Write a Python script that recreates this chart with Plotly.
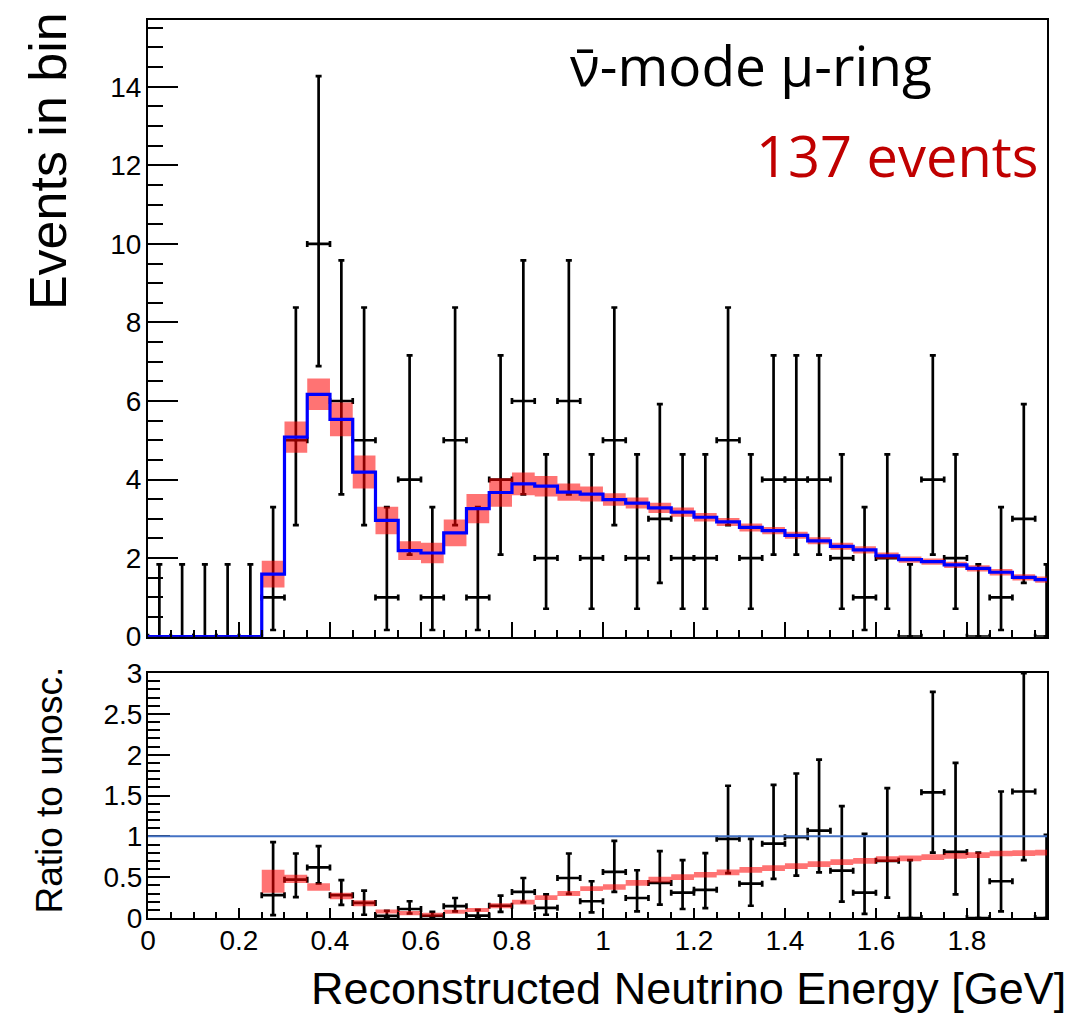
import plotly.graph_objects as go

# ---------------- data ----------------
energy_edges = [0.00, 0.05, 0.10, 0.15, 0.20, 0.25, 0.30, 0.35, 0.40, 0.45,
                0.50, 0.55, 0.60, 0.65, 0.70, 0.75, 0.80, 0.85, 0.90, 0.95,
                1.00, 1.05, 1.10, 1.15, 1.20, 1.25, 1.30, 1.35, 1.40, 1.45,
                1.50, 1.55, 1.60, 1.65, 1.70, 1.75, 1.80, 1.85, 1.90, 1.95, 2.00]

data_counts = [0, 0, 0, 0, 0, 1, 5, 10, 6, 5, 1, 4, 1, 5, 1, 4, 6, 2, 6, 2,
               5, 2, 3, 2, 2, 5, 2, 4, 4, 4, 2, 1, 2, 0, 4, 2, 0, 1, 3, 0]
data_err_up = [1.84, 1.84, 1.84, 1.84, 1.84, 2.30, 3.38, 4.27, 3.58, 3.38,
               2.30, 3.16, 2.30, 3.38, 2.30, 3.16, 3.58, 2.64, 3.58, 2.64,
               3.38, 2.64, 2.92, 2.64, 2.64, 3.38, 2.64, 3.16, 3.16, 3.16,
               2.64, 2.30, 2.64, 1.84, 3.16, 2.64, 1.84, 2.30, 2.92, 1.84]
data_err_low = [0, 0, 0, 0, 0, 0.83, 2.16, 3.11, 2.38, 2.16,
                0.83, 1.91, 0.83, 2.16, 0.83, 1.91, 2.38, 1.29, 2.38, 1.29,
                2.16, 1.29, 1.63, 1.29, 1.29, 2.16, 1.29, 1.91, 1.91, 1.91,
                1.29, 0.83, 1.29, 0, 1.91, 1.29, 0, 0.83, 1.63, 0]

mc_osc = [0, 0, 0, 0, 0, 1.59, 5.08, 6.17, 5.53, 4.19,
          2.96, 2.19, 2.13, 2.64, 3.26, 3.67, 3.89, 3.83, 3.68, 3.63,
          3.49, 3.40, 3.28, 3.17, 3.04, 2.92, 2.78, 2.70, 2.58, 2.44,
          2.30, 2.21, 2.06, 1.96, 1.91, 1.83, 1.74, 1.64, 1.51, 1.45]
mc_err = [0, 0, 0, 0, 0, 0.34, 0.40, 0.40, 0.43, 0.42,
          0.35, 0.24, 0.26, 0.34, 0.37, 0.36, 0.29, 0.26, 0.22, 0.19,
          0.16, 0.14, 0.13, 0.12, 0.11, 0.10, 0.10, 0.09, 0.09, 0.09,
          0.09, 0.09, 0.08, 0.08, 0.08, 0.08, 0.08, 0.08, 0.08, 0.08]

ratio_data = [None, None, None, None, None, 0.28, 0.47, 0.62, 0.28, 0.185,
              0.027, 0.11, 0.025, 0.145, 0.03, 0.15, 0.32, 0.125, 0.49, 0.205,
              0.565, 0.245, 0.43, 0.31, 0.345, 0.97, 0.42, 0.91, 0.99, 1.07,
              0.58, 0.31, 0.70, 0, 1.54, 0.81, 0, 0.45, 1.55, 0]
ratio_err_up = [0, 0, 0, 0, 0, 0.65, 0.32, 0.26, 0.185, 0.15,
                0.062, 0.095, 0.05, 0.10, 0.07, 0.125, 0.17, 0.165, 0.30, 0.245,
                0.38, 0.34, 0.39, 0.40, 0.45, 0.65, 0.55, 0.72, 0.78, 0.87,
                0.79, 0.72, 0.89, 0.71, 1.23, 1.09, 0.80, 1.10, 1.45, 1.02]
ratio_err_low = [0, 0, 0, 0, 0, 0.245, 0.215, 0.195, 0.12, 0.145,
                 0.022, 0.055, 0.02, 0.065, 0.025, 0.075, 0.125, 0.085, 0.195, 0.135,
                 0.245, 0.165, 0.265, 0.20, 0.225, 0.42, 0.27, 0.43, 0.47, 0.51,
                 0.38, 0.26, 0.45, 0, 0.74, 0.52, 0, 0.37, 0.84, 0]

ratio_mc = [0, 0, 0, 0, 0, 0.45, 0.48, 0.38, 0.27, 0.18,
            0.08, 0.06, 0.04, 0.077, 0.098, 0.15, 0.195, 0.25, 0.30, 0.36,
            0.38, 0.43, 0.47, 0.50, 0.53, 0.56, 0.59, 0.61, 0.635, 0.66,
            0.685, 0.70, 0.72, 0.73, 0.745, 0.76, 0.77, 0.79, 0.795, 0.80]
ratio_mc_err = [0, 0, 0, 0, 0, 0.14, 0.05, 0.045, 0.04, 0.036,
                0.025, 0.025, 0.025, 0.025, 0.025, 0.03, 0.03, 0.03, 0.03, 0.03,
                0.035, 0.035, 0.035, 0.035, 0.035, 0.035, 0.035, 0.035, 0.035, 0.035,
                0.035, 0.035, 0.035, 0.035, 0.035, 0.035, 0.035, 0.035, 0.035, 0.035]

x_tick_vals = [0, 0.2, 0.4, 0.6, 0.8, 1.0, 1.2, 1.4, 1.6, 1.8]
x_tick_text = ["0", "0.2", "0.4", "0.6", "0.8", "1", "1.2", "1.4", "1.6", "1.8"]
top_y_ticks = [0, 2, 4, 6, 8, 10, 12, 14]
bot_y_ticks = [0, 0.5, 1, 1.5, 2, 2.5, 3]
bot_y_text = ["0", "0.5", "1", "1.5", "2", "2.5", "3"]

# ---------------- derived ----------------
centers = [(a + b) / 2 for a, b in zip(energy_edges[:-1], energy_edges[1:])]
half_w = [(b - a) / 2 for a, b in zip(energy_edges[:-1], energy_edges[1:])]


def band_polys(vals, errs):
    xs, ys = [], []
    for i, (v, e) in enumerate(zip(vals, errs)):
        if e <= 0:
            continue
        x0, x1 = energy_edges[i], energy_edges[i + 1]
        xs += [x0, x1, x1, x0, x0, None]
        ys += [v - e, v - e, v + e, v + e, v - e, None]
    return xs, ys


BAND = "rgba(255,0,0,0.55)"
SANS = "Liberation Sans, Arial, Helvetica, sans-serif"
TICKFONT = dict(family=SANS, size=28, color="black")

fig = go.Figure()

# ---- top panel ----
fig.add_trace(go.Scatter(
    x=centers, y=data_counts, mode="markers", xaxis="x", yaxis="y",
    marker=dict(size=3, color="black"),
    error_y=dict(type="data", symmetric=False, array=data_err_up, arrayminus=data_err_low,
                 color="black", thickness=2.7, width=3),
    error_x=dict(type="data", array=half_w, color="black", thickness=2.7, width=3),
    showlegend=False, hoverinfo="skip"))

bx, by = band_polys(mc_osc, mc_err)
fig.add_trace(go.Scatter(x=bx, y=by, mode="lines", fill="toself", fillcolor=BAND,
                         line=dict(width=0, color=BAND), xaxis="x", yaxis="y",
                         showlegend=False, hoverinfo="skip"))

fig.add_trace(go.Scatter(x=energy_edges, y=mc_osc + [mc_osc[-1]], mode="lines",
                         line=dict(color="#0000ff", width=3.2, shape="hv"),
                         xaxis="x", yaxis="y", showlegend=False, hoverinfo="skip"))

# ---- bottom panel ----
idx = [i for i, r in enumerate(ratio_data) if r is not None]
fig.add_trace(go.Scatter(
    x=[centers[i] for i in idx], y=[ratio_data[i] for i in idx], mode="markers",
    xaxis="x2", yaxis="y2", marker=dict(size=3, color="black"),
    error_y=dict(type="data", symmetric=False,
                 array=[ratio_err_up[i] for i in idx],
                 arrayminus=[ratio_err_low[i] for i in idx],
                 color="black", thickness=2.7, width=3),
    error_x=dict(type="data", array=[half_w[i] for i in idx], color="black",
                 thickness=2.7, width=3),
    showlegend=False, hoverinfo="skip"))

rx, ry = band_polys(ratio_mc, ratio_mc_err)
fig.add_trace(go.Scatter(x=rx, y=ry, mode="lines", fill="toself", fillcolor=BAND,
                         line=dict(width=0, color=BAND), xaxis="x2", yaxis="y2",
                         showlegend=False, hoverinfo="skip"))

fig.add_shape(type="line", xref="x2 domain", x0=0, x1=1, yref="y2", y0=1, y1=1,
              line=dict(color="#4472c4", width=2))

X_RANGE = [0, 1.976]
common_axis = dict(showline=True, linewidth=2, linecolor="black", mirror=True,
                   showgrid=False, zeroline=False, ticks="inside", tickwidth=2,
                   tickcolor="black", tickfont=TICKFONT, automargin=False)

# the page body adds an 8px offset, so the figure is 8px smaller and margins
# are reduced by 8px to keep the plot frame where the reference has it
fig.update_layout(
    width=1075, height=1007,
    margin=dict(l=140, r=36, t=12, b=97, autoexpand=False),
    paper_bgcolor="white", plot_bgcolor="white",
    xaxis=dict(domain=[0, 1], anchor="y", range=X_RANGE, tickvals=x_tick_vals,
               showticklabels=False, ticklen=15,
               minor=dict(dtick=0.05, tick0=0, ticks="inside", ticklen=7,
                          tickwidth=2, tickcolor="black"),
               **common_axis),
    yaxis=dict(domain=[0.3133, 1], anchor="x", range=[0, 15.7], tickvals=top_y_ticks,
               ticklen=30, ticklabelstandoff=-1,
               minor=dict(dtick=0.5, tick0=0, ticks="inside", ticklen=15,
                          tickwidth=2, tickcolor="black"),
               **common_axis),
    xaxis2=dict(domain=[0, 1], anchor="y2", range=X_RANGE, tickvals=x_tick_vals,
                ticktext=x_tick_text, ticklen=10, ticklabelstandoff=-4,
                minor=dict(dtick=0.05, tick0=0, ticks="inside", ticklen=6,
                           tickwidth=2, tickcolor="black"),
                **common_axis),
    yaxis2=dict(domain=[0, 0.2728], anchor="x2", range=[0, 3.001], tickvals=bot_y_ticks,
                ticktext=bot_y_text, ticklen=22, ticklabelstandoff=-2,
                minor=dict(dtick=0.1, tick0=0, ticks="inside", ticklen=12,
                           tickwidth=2, tickcolor="black"),
                **common_axis),
    annotations=[
        dict(text="Events in bin", xref="paper", yref="paper", x=-0.1112, y=1.0111,
             xanchor="center", yanchor="top", textangle=-90, showarrow=False,
             font=dict(family=SANS, size=52, color="black")),
        dict(text="Ratio to unosc.", xref="paper", yref="paper", x=-0.110, y=0.142,
             xanchor="center", yanchor="middle", textangle=-90, showarrow=False,
             font=dict(family=SANS, size=37, color="black")),
        dict(text="Reconstructed Neutrino Energy [GeV]", xref="paper", yref="paper",
             x=1.0234, y=-0.078, xanchor="right", yanchor="middle", showarrow=False,
             font=dict(family=SANS, size=45, color="black")),
        dict(text="\u03bd\u0304-mode \u03bc-ring", xref="paper", yref="paper",
             x=0.4672, y=0.9505, xanchor="left", yanchor="middle", showarrow=False,
             font=dict(family="Open Sans, sans-serif", size=55, color="black")),
        dict(text="137 events", xref="paper", yref="paper",
             x=0.9922, y=0.8497, xanchor="right", yanchor="middle", showarrow=False,
             font=dict(family="Open Sans, sans-serif", size=56, color="#c00000")),
    ],
)

fig.write_html("out.html")
